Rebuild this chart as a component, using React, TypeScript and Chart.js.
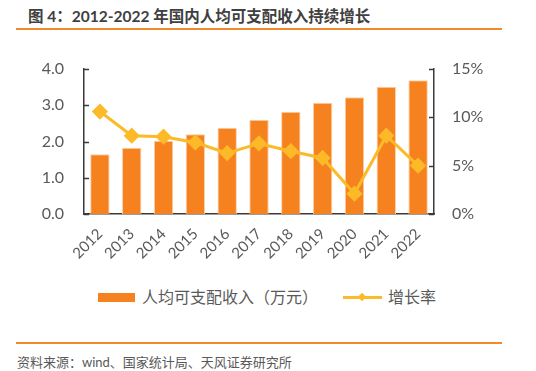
import React, { useEffect, useRef } from "react";
import { Chart, registerables } from "chart.js";

Chart.register(...registerables);

const years = ["2012", "2013", "2014", "2015", "2016", "2017", "2018", "2019", "2020", "2021", "2022"];
const income = [1.65, 1.83, 2.02, 2.2, 2.38, 2.6, 2.82, 3.07, 3.22, 3.51, 3.69];
const growth = [10.6, 8.1, 8.0, 7.4, 6.3, 7.3, 6.5, 5.8, 2.1, 8.1, 5.0];
const incomeLabel = "人均可支配收入（万元）";
const growthLabel = "增长率";
const titleText = "图 4：2012-2022 年国内人均可支配收入持续增长";
const sourceText = "资料来源：wind、国家统计局、天风证券研究所";

const BAR = "#F5821F";
const LINE = "#FCBA28";
const AXIS = "#3a3a3a";
const TXT = "#595959";
const FONT = "Lato, 'Noto Sans CJK SC', sans-serif";

const innerTicks = {
  id: "innerTicks",
  afterDraw(chart: any) {
    const { ctx, chartArea } = chart;
    ctx.save();
    ctx.strokeStyle = AXIS;
    ctx.lineWidth = 1.5;
    const y = chart.scales.y;
    y.ticks.forEach((t: any) => {
      const p = Math.round(y.getPixelForValue(t.value)) + 0.5;
      ctx.beginPath();
      ctx.moveTo(chartArea.left, p);
      ctx.lineTo(chartArea.left + 5, p);
      ctx.stroke();
    });
    const y1 = chart.scales.y1;
    y1.ticks.forEach((t: any) => {
      const p = Math.round(y1.getPixelForValue(t.value)) + 0.5;
      ctx.beginPath();
      ctx.moveTo(chartArea.right - 5, p);
      ctx.lineTo(chartArea.right, p);
      ctx.stroke();
    });
    ctx.restore();
  },
};

export default function App() {
  const ref = useRef<HTMLCanvasElement | null>(null);
  useEffect(() => {
    if (!ref.current) return;
    const chart = new Chart(ref.current, {
      type: "bar",
      data: {
        labels: years,
        datasets: [
          {
            type: "line",
            label: growthLabel,
            data: growth,
            yAxisID: "y1",
            borderColor: LINE,
            backgroundColor: LINE,
            borderWidth: 3,
            pointStyle: "rectRot",
            pointRadius: 6,
            pointBackgroundColor: LINE,
            pointBorderColor: LINE,
            order: 0,
          } as any,
          {
            type: "bar",
            label: incomeLabel,
            data: income,
            yAxisID: "y",
            backgroundColor: BAR,
            borderColor: "#FBCFA8",
            borderWidth: 1,
            categoryPercentage: 1,
            barPercentage: 0.61,
            order: 1,
          },
        ],
      },
      options: {
        animation: false,
        responsive: false,
        maintainAspectRatio: false,
        layout: { padding: { top: 69, left: 0, right: 0, bottom: 0 } },
        plugins: { legend: { display: false }, tooltip: { enabled: false } },
        scales: {
          x: {
            grid: { display: false, drawTicks: false },
            border: { display: true, color: AXIS, width: 1.5 },
            ticks: {
              color: TXT,
              font: { family: FONT, size: 15 },
              minRotation: 45,
              maxRotation: 45,
              padding: 11,
            },
            afterFit: (s: any) => {
              s.height = 66;
            },
          },
          y: {
            position: "left",
            min: 0,
            max: 4,
            grid: { display: false, drawTicks: false },
            border: { display: true, color: AXIS, width: 1.5 },
            ticks: {
              stepSize: 1,
              color: TXT,
              font: { family: FONT, size: 16 },
              padding: 20,
              callback: (v: any) => Number(v).toFixed(1),
            },
            afterFit: (s: any) => {
              s.width = 84;
            },
          },
          y1: {
            position: "right",
            min: 0,
            max: 15,
            grid: { display: false, drawTicks: false },
            border: { display: true, color: AXIS, width: 1.5 },
            ticks: {
              stepSize: 5,
              color: TXT,
              font: { family: FONT, size: 16 },
              padding: 18,
              callback: (v: any) => v + "%",
            },
            afterFit: (s: any) => {
              s.width = 102;
            },
          },
        },
      },
      plugins: [innerTicks],
    });
    return () => chart.destroy();
  }, []);

  return (
    <div
      style={{
        position: "absolute",
        left: 0,
        top: 0,
        width: 536,
        height: 371,
        background: "#fff",
        fontFamily: FONT,
        overflow: "hidden",
      }}
    >
      <div
        style={{
          position: "absolute",
          left: 28,
          top: 6,
          fontSize: 15.5,
          fontWeight: 700,
          color: "#404040",
          whiteSpace: "nowrap",
          lineHeight: "20px",
        }}
      >
        {titleText}
      </div>
      <div style={{ position: "absolute", left: 16, top: 28, width: 486, height: 2, background: "#F08A2C" }} />
      <canvas ref={ref} width={536} height={280} style={{ position: "absolute", left: 0, top: 0 }} />
      <div style={{ position: "absolute", left: 98, top: 293, width: 37, height: 9, background: BAR }} />
      <div
        style={{
          position: "absolute",
          left: 142,
          top: 286,
          fontSize: 16,
          color: TXT,
          whiteSpace: "nowrap",
          lineHeight: "22px",
        }}
      >
        {incomeLabel}
      </div>
      <div style={{ position: "absolute", left: 343, top: 296, width: 39, height: 3, background: LINE }} />
      <div
        style={{
          position: "absolute",
          left: 359,
          top: 294,
          width: 6,
          height: 6,
          background: LINE,
          transform: "rotate(45deg)",
        }}
      />
      <div
        style={{
          position: "absolute",
          left: 388,
          top: 286,
          fontSize: 16,
          color: TXT,
          whiteSpace: "nowrap",
          lineHeight: "22px",
        }}
      >
        {growthLabel}
      </div>
      <div style={{ position: "absolute", left: 16, top: 342, width: 486, height: 2, background: "#F08A2C" }} />
      <div
        style={{
          position: "absolute",
          left: 17,
          top: 353,
          fontSize: 13,
          color: TXT,
          whiteSpace: "nowrap",
          lineHeight: "18px",
        }}
      >
        {sourceText}
      </div>
    </div>
  );
}
